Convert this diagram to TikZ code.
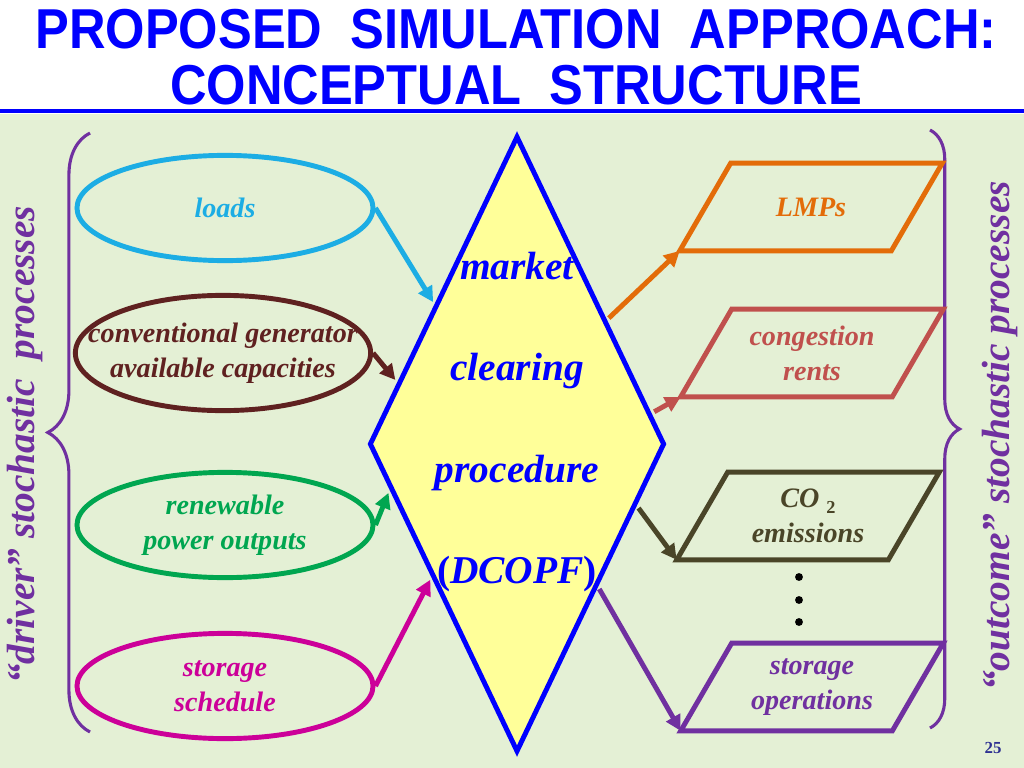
\documentclass[tikz,border=0pt]{standalone}
\usepackage{fontspec}
\setmainfont{Liberation Serif}
\newfontfamily\titlefont[FakeStretch=0.9]{Liberation Sans}
\usepackage{tikz}
\usetikzlibrary{%
	shapes.geometric,%
	arrows.meta,%
	calc,%
	decorations.pathreplacing%
}
\definecolor{Slide}{HTML}{E4F0D5}
\definecolor{Title}{HTML}{0000FF}
\definecolor{Loads}{HTML}{1CADE4}
\definecolor{Gens}{HTML}{5F2120}
\definecolor{Renew}{HTML}{00A650}
\definecolor{Store}{HTML}{CC0099}
\definecolor{Lmp}{HTML}{E36C09}
\definecolor{Rent}{HTML}{C0504D}
\definecolor{Carbon}{HTML}{4A4528}
\definecolor{Procs}{HTML}{7030A0}
\definecolor{Clear}{HTML}{FFFF99}
\definecolor{Page}{HTML}{2E3192}

\begin{document}
\begin{tikzpicture}[x=0.025cm,y=-0.025cm,
	driver/.style={ellipse,draw,line width=3.5pt,minimum width=7.4cm,minimum height=2.63cm},
	drivertext/.style={font=\fontsize{20}{25}\selectfont\bfseries\itshape,align=center},
	outcome/.style={minimum width=4cm,minimum height=2.18cm,inner sep=0pt,
		font=\fontsize{20}{25}\selectfont\bfseries\itshape,align=center},
	feed/.style={line width=3.5pt,-{Triangle[length=11pt,width=11pt]}},
	process/.style={font=\fontsize{28}{34}\selectfont\bfseries\itshape,text=Procs,rotate=90}]
\useasboundingbox (0,0) rectangle (1024,768);
% Slide
\fill [white] (0,0) rectangle (1024,114);
\fill [Slide] (0,114) rectangle (1024,768);
\draw [Title,line width=3pt] (0,111) -- (1024,111);
% Title
\node [font=\titlefont\fontsize{40}{40}\selectfont\bfseries,text=Title,align=center] (title) at (516,57)
	{PROPOSED\ \ SIMULATION\ \ APPROACH:\\CONCEPTUAL\ \ STRUCTURE};
% Braces
\draw [Procs,line width=2.2pt,decorate,decoration={brace,amplitude=30pt}] (90,732) -- (90,133);
\draw [Procs,line width=2.2pt,decorate,decoration={brace,amplitude=21pt}] (930,130) -- (930,728);
\node [process] (drv) at (25,445) {“driver” stochastic\ \ processes};
\node [process] (out) at (1000,436) {“outcome” stochastic processes};
% Drivers
\node [driver,draw=Loads] (loads) at (225,208) {};
\node [driver,draw=Gens,minimum width=7.38cm,minimum height=2.88cm] (gens) at (223,353) {};
\node [driver,draw=Renew] (renew) at (225,525) {};
\node [driver,draw=Store] (store) at (225,686) {};
\node [drivertext,text=Loads] (loadsTxt) at (loads) {loads};
\node [drivertext,text=Gens] (gensTxt) at (gens) {conventional generator\\available capacities};
\node [drivertext,text=Renew] (renewTxt) at (renew) {renewable\\power outputs};
\node [drivertext,text=Store] (storeTxt) at (store) {storage\\schedule};
% Market clearing
\node [diamond,draw=Title,fill=Clear,line width=3.5pt,minimum width=7.38cm,minimum height=15.4cm] (mcp) at (517,444) {};
\node [font=\fontsize{28}{72}\selectfont\bfseries\itshape,text=Title,align=center] (mcpTxt) at (517,422)
	{market\\clearing\\procedure\\\textup{(}DCOPF\textup{)}};
% Outcomes
\node [outcome,text=Lmp] (lmp) at (811,207) {LMPs};
\node [outcome,text=Rent] (rent) at (812,353) {congestion\\rents};
\node [outcome,text=Carbon] (carbon) at (808,516)
	{CO\ \raisebox{-4pt}{\fontsize{13}{13}\selectfont\upshape 2}\\emissions};
\node [outcome,text=Procs] (ops) at (812,687) {storage\\operations};
\foreach \o/\c in {lmp/Lmp,rent/Rent,carbon/Carbon,ops/Procs}
	\draw [\c,line width=3.5pt] ($(\o.south west)+(-51,0)$) coordinate (\o-bl) -- (\o.north west)
		-- ($(\o.north east)+(51,0)$) -- (\o.south east) -- cycle;
\foreach \y in {577,600,622}
	\fill (799,\y) circle [radius=2.8pt];
% Inputs
\draw [feed,Loads,shorten >=1.75pt] (loads.east) -- ($(mcp.west)!0.45!(mcp.north)$);
\draw [feed,Gens,shorten >=1.75pt] (gens.east) -- ($(mcp.west)!0.2!(mcp.north)$);
\draw [feed,Renew,shorten >=1.75pt] (renew.east) -- ($(mcp.west)!0.15!(mcp.south)$);
\draw [feed,Store,shorten >=1.75pt] (store.east) -- ($(mcp.west)!0.43!(mcp.south)$);
% Outputs
\draw [feed,Lmp,shorten <=1.75pt] ($(mcp.east)!0.4!(mcp.north)$) -- (lmp-bl);
\draw [feed,Rent,shorten <=1.75pt] ($(mcp.east)!0.1!(mcp.north)$) -- (rent-bl);
\draw [feed,Carbon,shorten <=1.75pt] ($(mcp.east)!0.2!(mcp.south)$) -- (carbon-bl);
\draw [feed,Procs,shorten <=1.75pt] ($(mcp.east)!0.46!(mcp.south)$) -- (ops-bl);
% Page
\node [font=\fontsize{12}{12}\selectfont\bfseries,text=Page] (page) at (993,748) {25};
\end{tikzpicture}
\end{document}
